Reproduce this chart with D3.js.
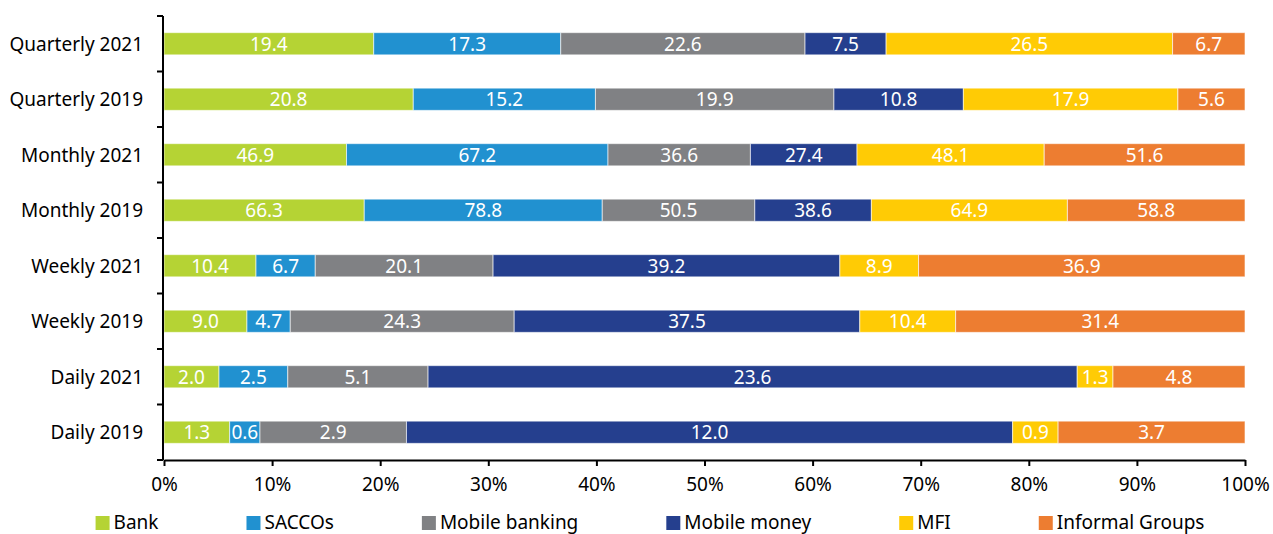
<!DOCTYPE html>
<html lang="en">
<head>
    <meta charset="UTF-8">
    <title>Frequency of use by provider</title>
    <script src="https://d3js.org/d3.v7.min.js"></script>
    <style>
        body { margin: 0; background: #fff; }
        text { font-family: "Noto Sans", "Open Sans", sans-serif; }
        .axis path, .axis line { stroke: #000; stroke-width: 2px; }
        .axis text { font-size: 19px; fill: #000; }
        .val { font-size: 19px; fill: #fff; }
        .legend text { font-size: 19px; fill: #000; }
    </style>
</head>
<body>
    <svg width="1273" height="534"></svg>
    <script>
        const categories = ["Quarterly 2021", "Quarterly 2019", "Monthly 2021", "Monthly 2019",
                            "Weekly 2021", "Weekly 2019", "Daily 2021", "Daily 2019"];
        const seriesNames = ["Bank", "SACCOs", "Mobile banking", "Mobile money", "MFI", "Informal Groups"];
        const bank          = [19.4, 20.8, 46.9, 66.3, 10.4, 9.0, 2.0, 1.3];
        const saccos        = [17.3, 15.2, 67.2, 78.8, 6.7, 4.7, 2.5, 0.6];
        const mobileBanking = [22.6, 19.9, 36.6, 50.5, 20.1, 24.3, 5.1, 2.9];
        const mobileMoney   = [7.5, 10.8, 27.4, 38.6, 39.2, 37.5, 23.6, 12.0];
        const mfi           = [26.5, 17.9, 48.1, 64.9, 8.9, 10.4, 1.3, 0.9];
        const informal      = [6.7, 5.6, 51.6, 58.8, 36.9, 31.4, 4.8, 3.7];
        const xTicks = [0, 0.1, 0.2, 0.3, 0.4, 0.5, 0.6, 0.7, 0.8, 0.9, 1];
        const colors = ["#b5d334", "#2191d0", "#808184", "#253f8e", "#ffcb05", "#ed7d31"];

        const seriesValues = [bank, saccos, mobileBanking, mobileMoney, mfi, informal];

        const rows = categories.map((c, i) => {
            const r = { cat: c };
            seriesNames.forEach((s, j) => r[s] = seriesValues[j][i]);
            return r;
        });

        const stack = d3.stack().keys(seriesNames).offset(d3.stackOffsetExpand);
        const stacked = stack(rows);

        const svg = d3.select("svg");
        const margin = { left: 164, right: 28, top: 16, bottom: 74 };
        const width = 1273, height = 534;

        const x = d3.scaleLinear().domain([0, 1]).range([margin.left, width - margin.right]);
        const y = d3.scaleBand().domain(categories)
            .range([margin.top, height - margin.bottom]).paddingInner(0.6).paddingOuter(0.3);

        const layer = svg.append("g").selectAll("g")
            .data(stacked)
            .join("g")
            .attr("fill", (d, i) => colors[i]);

        layer.selectAll("rect")
            .data(d => d)
            .join("rect")
            .attr("x", d => x(d[0]))
            .attr("y", d => y(d.data.cat))
            .attr("width", d => x(d[1]) - x(d[0]))
            .attr("height", y.bandwidth())
            .attr("stroke", "#fff")
            .attr("stroke-opacity", 0.6)
            .attr("stroke-width", 1);

        stacked.forEach(s => {
            svg.append("g").selectAll("text")
                .data(s)
                .join("text")
                .attr("class", "val")
                .attr("x", d => (x(d[0]) + x(d[1])) / 2)
                .attr("y", d => y(d.data.cat) + y.bandwidth() / 2)
                .attr("dy", "0.36em")
                .attr("text-anchor", "middle")
                .text(d => d.data[s.key].toFixed(1));
        });

        // x axis
        svg.append("g")
            .attr("class", "axis")
            .attr("transform", `translate(0,${height - margin.bottom})`)
            .call(d3.axisBottom(x).tickValues(xTicks).tickFormat(d3.format(".0%")).tickSize(6).tickSizeOuter(0).tickPadding(12));

        // y axis, ticks at band edges
        const yAxis = svg.append("g")
            .attr("class", "axis")
            .attr("transform", `translate(${margin.left - 1},0)`);
        yAxis.append("line")
            .attr("y1", margin.top).attr("y2", height - margin.bottom);
        const edges = d3.range(categories.length + 1).map(i => margin.top + i * (height - margin.top - margin.bottom) / categories.length);
        yAxis.selectAll(".edge").data(edges).join("line")
            .attr("class", "edge")
            .attr("x1", -6).attr("x2", 0)
            .attr("y1", d => d).attr("y2", d => d);
        yAxis.selectAll(".lbl").data(categories).join("text")
            .attr("class", "lbl")
            .attr("x", -20)
            .attr("y", d => y(d) + y.bandwidth() / 2)
            .attr("dy", "0.36em")
            .attr("text-anchor", "end")
            .text(d => d);

        // legend
        const legend = svg.append("g").attr("class", "legend");
        const items = legend.selectAll("g").data(seriesNames).join("g");
        items.append("rect").attr("width", 14).attr("height", 14).attr("y", -13)
            .attr("fill", (d, i) => colors[i]);
        items.append("text").attr("x", 18).text(d => d);
        let off = 0;
        items.each(function () {
            const w = this.querySelector("text").getComputedTextLength();
            d3.select(this).attr("transform", `translate(${off},0)`);
            off += 18 + w + 88;
        });
        const total = off - 88;
        legend.attr("transform", `translate(${650 - total / 2},529)`);
    </script>
</body>
</html>
